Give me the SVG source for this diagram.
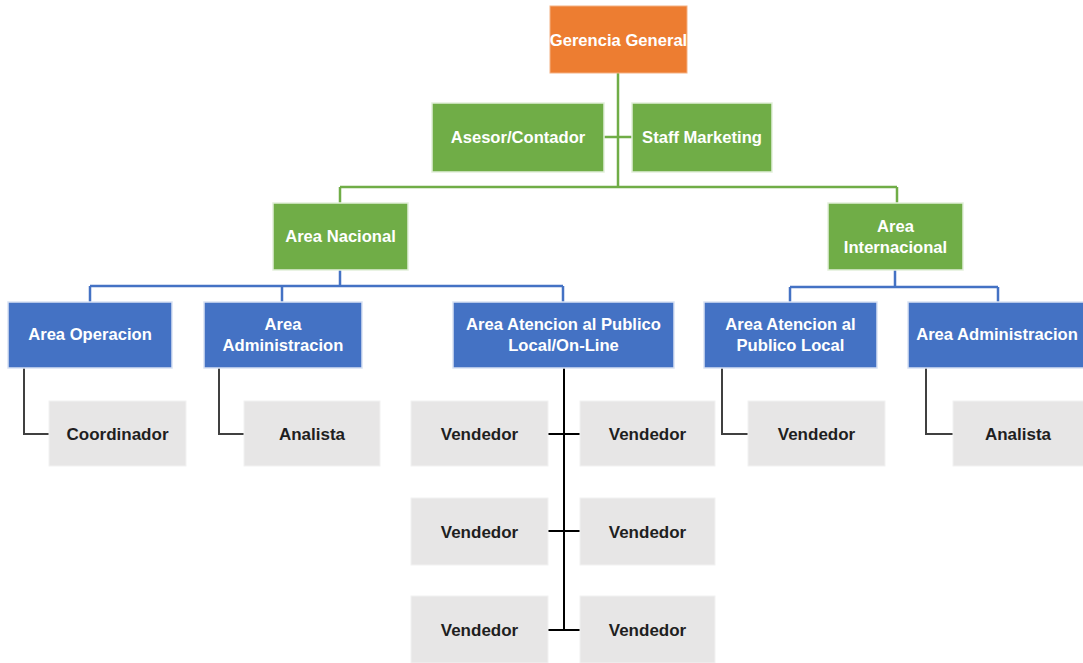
<svg xmlns="http://www.w3.org/2000/svg" width="1083" height="663" viewBox="0 0 1083 663">
<style>
.o{fill:#ED7D31;stroke:#F4B183;stroke-width:1}
.g{fill:#70AD47;stroke:#E2EFDA;stroke-width:1.5}
.b{fill:#4472C4;stroke:#D9E2F3;stroke-width:1.5}
.y{fill:#E7E6E6;stroke:#F2F2F2;stroke-width:1}
.w{fill:#FFFFFF;font-family:"Liberation Sans",Arial,sans-serif;font-weight:bold;font-size:16.6px;text-anchor:middle}
.k{fill:#1F1F1F;font-family:"Liberation Sans",Arial,sans-serif;font-weight:bold;font-size:17px;text-anchor:middle}
.lg{stroke:#70AD47;stroke-width:2.5;fill:none}
.lb{stroke:#4472C4;stroke-width:2.5;fill:none}
.ld{stroke:#404040;stroke-width:2;fill:none}
.lk{stroke:#000000;stroke-width:2;fill:none}
</style>
<rect width="1083" height="663" fill="#FFFFFF"/>
<g id="connectors">
<path class="lg" d="M618 73V187M604 137H632M340 187H897M340 187V203M897 187V203"/>
<path class="lb" d="M340 270V286M90 286H563M90 286V302M282 286V302M563 286V302"/>
<path class="lb" d="M895 270V287M790 287H998M790 287V302M998 287V302"/>
<path class="ld" d="M24 368V434H49M219 368V434H244M722 368V434H748M926 368V434H953"/>
<path class="lk" d="M564 368V630M548 434H580M548 531H580M548 630H580"/>
</g>
<g id="gerencia"><rect class="o" x="550" y="6" width="137" height="67"/><text class="w" x="618.5" y="46">Gerencia General</text></g>
<g id="asesor"><rect class="g" x="432" y="103" width="172" height="69"/><text class="w" x="518" y="143">Asesor/Contador</text></g>
<g id="staff"><rect class="g" x="632" y="103" width="140" height="69"/><text class="w" x="702" y="143">Staff Marketing</text></g>
<g id="nacional"><rect class="g" x="273" y="203" width="135" height="67"/><text class="w" x="340.5" y="242">Area Nacional</text></g>
<g id="internacional"><rect class="g" x="828" y="203" width="135" height="67"/><text class="w" x="895.5" y="232">Area</text><text class="w" x="895.5" y="253">Internacional</text></g>
<g id="operacion"><rect class="b" x="8" y="302" width="164" height="66"/><text class="w" x="90" y="340">Area Operacion</text></g>
<g id="administracion1"><rect class="b" x="204" y="302" width="158" height="66"/><text class="w" x="283" y="330">Area</text><text class="w" x="283" y="351">Administracion</text></g>
<g id="atencion1"><rect class="b" x="453" y="302" width="221" height="66"/><text class="w" x="563.5" y="330">Area Atencion al Publico</text><text class="w" x="563.5" y="351">Local/On-Line</text></g>
<g id="atencion2"><rect class="b" x="704" y="302" width="173" height="66"/><text class="w" x="790.5" y="330">Area Atencion al</text><text class="w" x="790.5" y="351">Publico Local</text></g>
<g id="administracion2"><rect class="b" x="908" y="302" width="176" height="66"/><text class="w" x="997" y="340">Area Administracion</text></g>
<g id="coordinador"><rect class="y" x="49" y="401" width="137" height="65"/><text class="k" x="117.5" y="440">Coordinador</text></g>
<g id="analista1"><rect class="y" x="244" y="401" width="136" height="65"/><text class="k" x="312" y="440">Analista</text></g>
<g id="vendedor1"><rect class="y" x="411" y="401" width="137" height="65"/><text class="k" x="479.5" y="440">Vendedor</text></g>
<g id="vendedor2"><rect class="y" x="580" y="401" width="135" height="65"/><text class="k" x="647.5" y="440">Vendedor</text></g>
<g id="vendedor3"><rect class="y" x="411" y="498" width="137" height="67"/><text class="k" x="479.5" y="538">Vendedor</text></g>
<g id="vendedor4"><rect class="y" x="580" y="498" width="135" height="67"/><text class="k" x="647.5" y="538">Vendedor</text></g>
<g id="vendedor5"><rect class="y" x="411" y="596" width="137" height="67"/><text class="k" x="479.5" y="636">Vendedor</text></g>
<g id="vendedor6"><rect class="y" x="580" y="596" width="135" height="67"/><text class="k" x="647.5" y="636">Vendedor</text></g>
<g id="vendedor7"><rect class="y" x="748" y="401" width="137" height="65"/><text class="k" x="816.5" y="440">Vendedor</text></g>
<g id="analista2"><rect class="y" x="953" y="401" width="131" height="65"/><text class="k" x="1018" y="440">Analista</text></g>
</svg>
